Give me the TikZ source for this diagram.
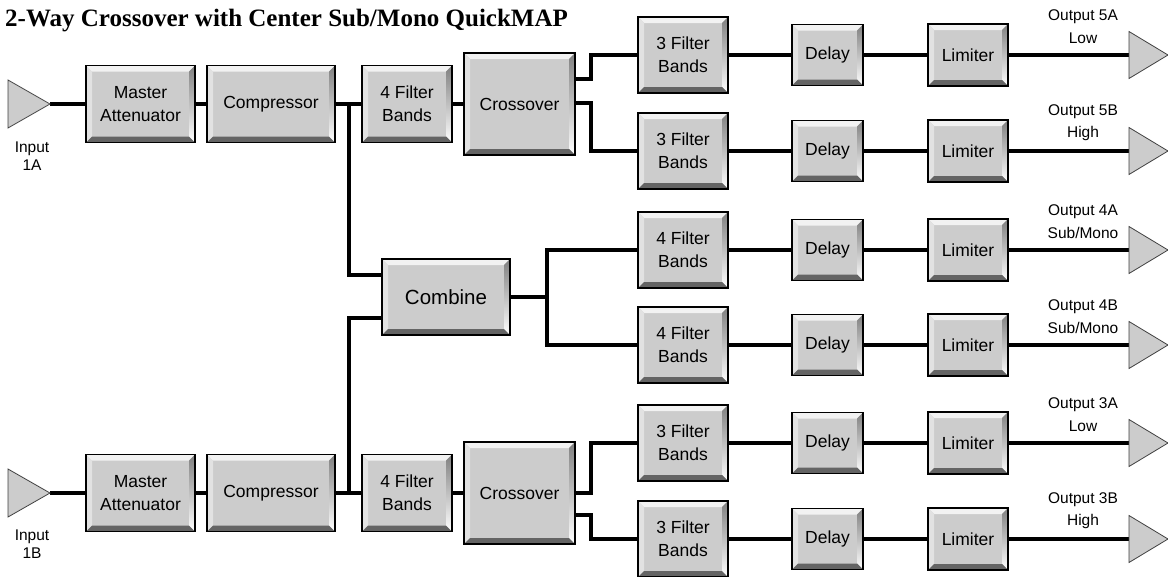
\documentclass[tikz,border=0pt]{standalone}
\usepackage{fontspec}
\setmainfont{Liberation Serif}
\setsansfont{Liberation Sans}
\usepackage{tikz}
\usetikzlibrary{calc, positioning}
\definecolor{face}{RGB}{204, 204, 204}
\definecolor{lite}{RGB}{242, 242, 242}
\definecolor{side}{RGB}{226, 226, 226}
\definecolor{shade}{RGB}{136, 136, 136}
\definecolor{dark}{RGB}{100, 100, 100}
\tikzset{
    blocknode/.style = {draw, rectangle, fill=face, line width=1.5pt, inner sep=0em, node distance=0em,
      align=center, font=\sffamily\fontsize{17.5}{23}\selectfont,
      path picture={
        \fill[lite] (path picture bounding box.north west) -- (path picture bounding box.north east)
          -- ++(-6pt,-6pt) -- ([shift={(6pt,-6pt)}]path picture bounding box.north west) -- cycle;
        \fill[side] (path picture bounding box.north west) -- (path picture bounding box.south west)
          -- ++(6pt,6pt) -- ([shift={(6pt,-6pt)}]path picture bounding box.north west) -- cycle;
        \fill[shade] (path picture bounding box.north east) -- (path picture bounding box.south east)
          -- ++(-6pt,6pt) -- ([shift={(-6pt,-6pt)}]path picture bounding box.north east) -- cycle;
        \fill[dark] (path picture bounding box.south west) -- (path picture bounding box.south east)
          -- ++(-6pt,6pt) -- ([shift={(6pt,6pt)}]path picture bounding box.south west) -- cycle;
      }},
    filternode/.style = {blocknode, minimum width=90pt, minimum height=76pt},
    delaynode/.style = {blocknode, minimum width=71pt, minimum height=61pt},
    limitnode/.style = {blocknode, minimum width=80pt, minimum height=62pt},
    textnode/.style = {draw=none, fill=none, inner sep=0em, align=center,
      font=\sffamily\fontsize{15.5}{22.5}\selectfont},
    titlenode/.style = {draw=none, fill=none, inner sep=0em, font=\rmfamily\bfseries\fontsize{25}{30}\selectfont},
    connect/.style = {black, line width=4.5pt},
    tri/.style = {draw=black!75, fill=face, line width=0.8pt}
}

\begin{document}
\begin{tikzpicture}[x=1pt, y=-1pt]
\useasboundingbox (0,0) rectangle (1168,576);

\node [titlenode, name=title, anchor=base west] at (5,26) {2-Way Crossover with Center Sub/Mono QuickMAP};

% input A
\coordinate (in1) at (50,104);
\node [blocknode, name=att1, minimum width=109pt, minimum height=77pt] at (140.5,104) {Master\\Attenuator};
\node [blocknode, name=comp1, right of = att1, xshift=130.5pt, minimum width=128pt, minimum height=77pt] {Compressor};
\node [blocknode, name=fb1, right of = comp1, xshift=136pt, minimum width=90pt, minimum height=77pt] {4 Filter\\Bands};
\node [blocknode, name=xo1, right of = fb1, xshift=112.5pt, minimum width=111pt, minimum height=102pt] {Crossover};
\node [textnode, name=lab1a, font=\sffamily\fontsize{15.5}{18.5}\selectfont] at (32,156) {Input\\1A};

% input B
\coordinate (in2) at (50,493);
\node [blocknode, name=att2, minimum width=109pt, minimum height=77pt] at (140.5,493) {Master\\Attenuator};
\node [blocknode, name=comp2, right of = att2, xshift=130.5pt, minimum width=128pt, minimum height=77pt] {Compressor};
\node [blocknode, name=fb2, right of = comp2, xshift=136pt, minimum width=90pt, minimum height=77pt] {4 Filter\\Bands};
\node [blocknode, name=xo2, right of = fb2, xshift=112.5pt, minimum width=111pt, minimum height=102pt] {Crossover};
\node [textnode, name=lab1b, font=\sffamily\fontsize{15.5}{18.5}\selectfont] at (32,544) {Input\\1B};

% center sum
\node [blocknode, name=comb, minimum width=128pt, minimum height=76pt, font=\sffamily\fontsize{20.5}{24}\selectfont] at (446,297) {Combine};

% output chains
\node [filternode, name=f5a] at (683,55) {3 Filter\\Bands};
\node [delaynode, name=d5a, right of = f5a, xshift=144.5pt] {Delay};
\node [limitnode, name=l5a, right of = d5a, xshift=140.5pt] {Limiter};
\coordinate (o5a) at (1129,55);
\node [textnode, name=lab5a] at (1083,26.5) {Output 5A\\Low};

\node [filternode, name=f5b] at (683,151) {3 Filter\\Bands};
\node [delaynode, name=d5b, right of = f5b, xshift=144.5pt] {Delay};
\node [limitnode, name=l5b, right of = d5b, xshift=140.5pt] {Limiter};
\coordinate (o5b) at (1129,151);
\node [textnode, name=lab5b] at (1083,122.5) {Output 5B\\High};

\node [filternode, name=f4a] at (683,250) {4 Filter\\Bands};
\node [delaynode, name=d4a, right of = f4a, xshift=144.5pt] {Delay};
\node [limitnode, name=l4a, right of = d4a, xshift=140.5pt] {Limiter};
\coordinate (o4a) at (1129,250);
\node [textnode, name=lab4a] at (1083,221.5) {Output 4A\\Sub/Mono};

\node [filternode, name=f4b] at (683,345) {4 Filter\\Bands};
\node [delaynode, name=d4b, right of = f4b, xshift=144.5pt] {Delay};
\node [limitnode, name=l4b, right of = d4b, xshift=140.5pt] {Limiter};
\coordinate (o4b) at (1129,345);
\node [textnode, name=lab4b] at (1083,316.5) {Output 4B\\Sub/Mono};

\node [filternode, name=f3a] at (683,443) {3 Filter\\Bands};
\node [delaynode, name=d3a, right of = f3a, xshift=144.5pt] {Delay};
\node [limitnode, name=l3a, right of = d3a, xshift=140.5pt] {Limiter};
\coordinate (o3a) at (1129,443);
\node [textnode, name=lab3a] at (1083,414.5) {Output 3A\\Low};

\node [filternode, name=f3b] at (683,539) {3 Filter\\Bands};
\node [delaynode, name=d3b, right of = f3b, xshift=144.5pt] {Delay};
\node [limitnode, name=l3b, right of = d3b, xshift=140.5pt] {Limiter};
\coordinate (o3b) at (1129,539);
\node [textnode, name=lab3b] at (1083,510.5) {Output 3B\\High};

% wiring
\draw [connect] (in1) -- (att1);
\draw [connect] (att1) -- (comp1);
\draw [connect] (comp1) -- (fb1);
\draw [connect] (fb1) -- (xo1);
\draw [connect] (in2) -- (att2);
\draw [connect] (att2) -- (comp2);
\draw [connect] (comp2) -- (fb2);
\draw [connect] (fb2) -- (xo2);

\coordinate (j1) at (349,104);
\coordinate (j2) at (349,493);
\coordinate (j3) at (547,297);
\draw [connect] (j1) |- ([yshift=22pt]comb.west);
\draw [connect] (j2) |- ([yshift=-21pt]comb.west);
\draw [connect] (comb) -- (j3);
\draw [connect] (j3) |- (f4a);
\draw [connect] (j3) |- (f4b);

\draw [connect] ([yshift=25pt]xo1.east) -- ++(15,0) |- (f5a);
\draw [connect] ([yshift=1pt]xo1.east) -- ++(15,0) |- (f5b);
\draw [connect] (xo2.east) -- ++(15,0) |- (f3a);
\draw [connect] ([yshift=-22pt]xo2.east) -- ++(15,0) |- (f3b);

\draw [connect] (f5a) -- (d5a);  \draw [connect] (d5a) -- (l5a);  \draw [connect] (l5a) -- (o5a);
\draw [connect] (f5b) -- (d5b);  \draw [connect] (d5b) -- (l5b);  \draw [connect] (l5b) -- (o5b);
\draw [connect] (f4a) -- (d4a);  \draw [connect] (d4a) -- (l4a);  \draw [connect] (l4a) -- (o4a);
\draw [connect] (f4b) -- (d4b);  \draw [connect] (d4b) -- (l4b);  \draw [connect] (l4b) -- (o4b);
\draw [connect] (f3a) -- (d3a);  \draw [connect] (d3a) -- (l3a);  \draw [connect] (l3a) -- (o3a);
\draw [connect] (f3b) -- (d3b);  \draw [connect] (d3b) -- (l3b);  \draw [connect] (l3b) -- (o3b);

% triangles
\draw [tri] (in1) -- ++(-42,-24) -- ++(0,48) -- cycle;
\draw [tri] (in2) -- ++(-42,-24) -- ++(0,48) -- cycle;
\draw [tri] (o5a) -- ++(0,-23.5) -- ++(39,23.5) -- ++(-39,23.5) -- cycle;
\draw [tri] (o5b) -- ++(0,-23.5) -- ++(39,23.5) -- ++(-39,23.5) -- cycle;
\draw [tri] (o4a) -- ++(0,-23.5) -- ++(39,23.5) -- ++(-39,23.5) -- cycle;
\draw [tri] (o4b) -- ++(0,-23.5) -- ++(39,23.5) -- ++(-39,23.5) -- cycle;
\draw [tri] (o3a) -- ++(0,-23.5) -- ++(39,23.5) -- ++(-39,23.5) -- cycle;
\draw [tri] (o3b) -- ++(0,-23.5) -- ++(39,23.5) -- ++(-39,23.5) -- cycle;
\end{tikzpicture}
\end{document}
